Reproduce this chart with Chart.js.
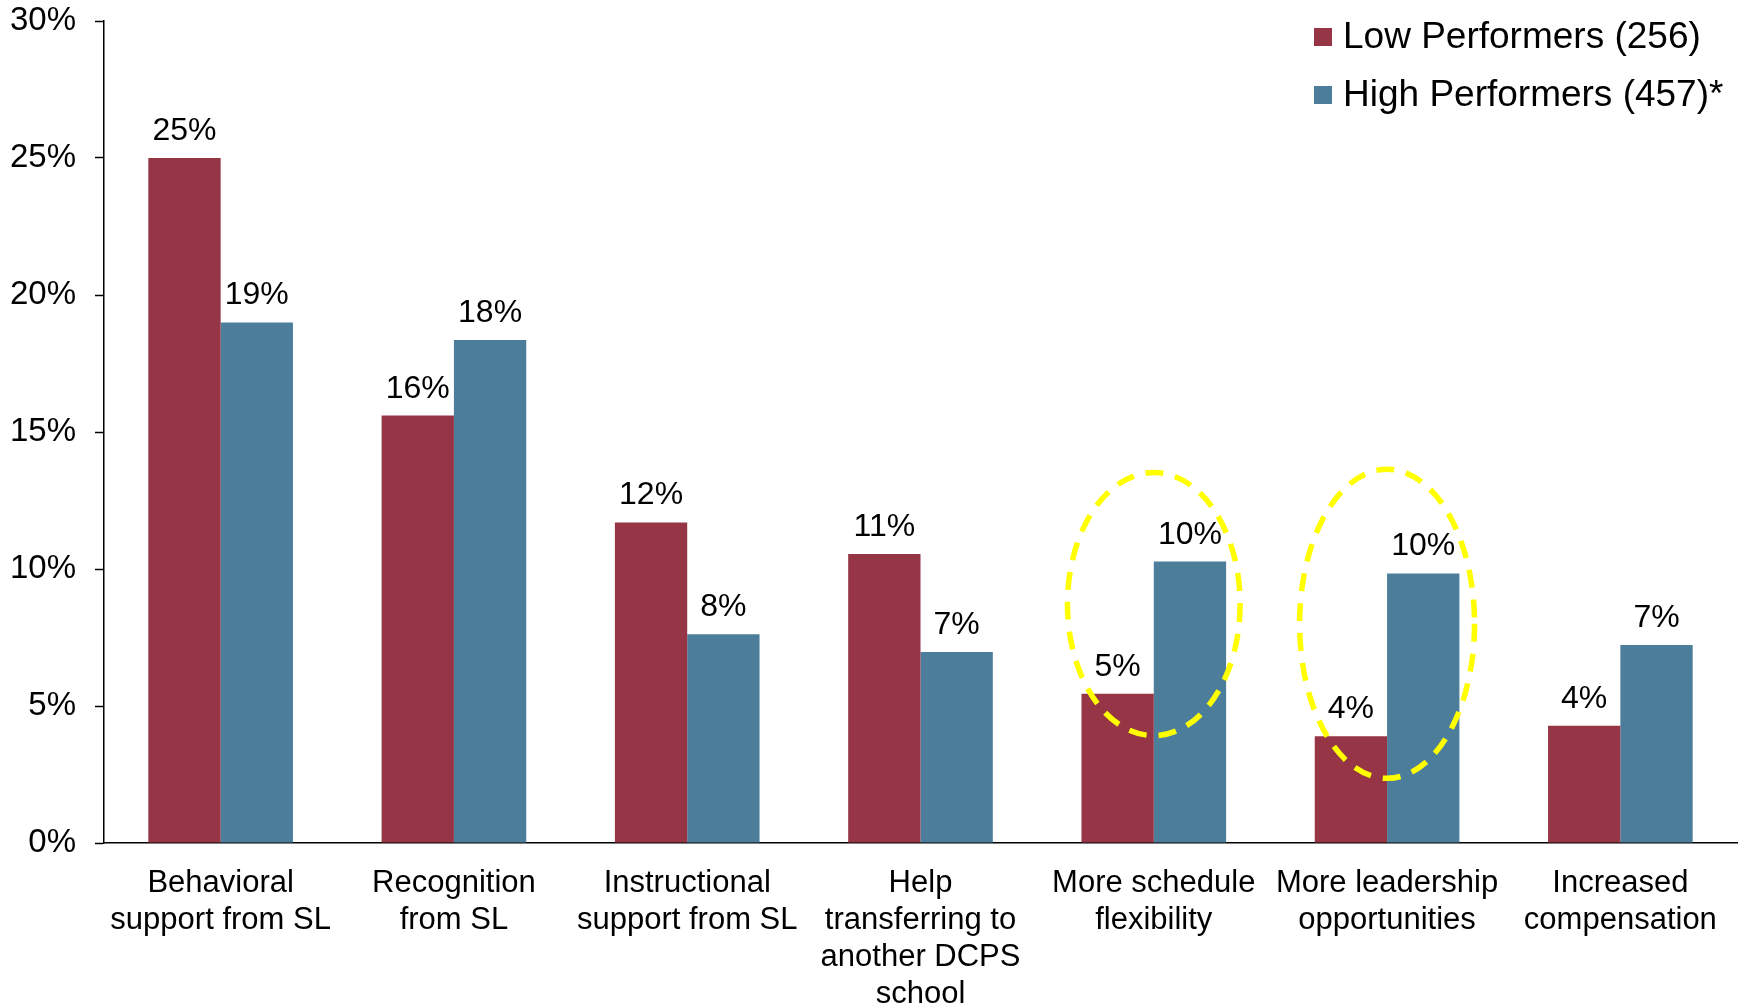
<!DOCTYPE html>
<html>
<head>
<meta charset="utf-8">
<title>Supports wanted by performance group</title>
<script src="https://cdn.jsdelivr.net/npm/chart.js@4.4.1/dist/chart.umd.min.js"></script>
<style>
  html, body { margin: 0; padding: 0; background: #fff; }
  #wrap { width: 1742px; height: 1004px; }
</style>
</head>
<body>
<div id="wrap"><canvas id="myChart" width="1742" height="1004"></canvas></div>
<script>
// categories (multi-line labels)
const categories = [
    ['Behavioral', 'support from SL'],
    ['Recognition', 'from SL'],
    ['Instructional', 'support from SL'],
    ['Help', 'transferring to', 'another DCPS', 'school'],
    ['More schedule', 'flexibility'],
    ['More leadership', 'opportunities'],
    ['Increased', 'compensation']
];
const lowPerformers = [25.0, 15.6, 11.7, 10.55, 5.45, 3.9, 4.28];
const highPerformers = [19.0, 18.36, 7.62, 6.97, 10.27, 9.84, 7.23];
const seriesNames = ['Low Performers (256)', 'High Performers (457)*'];
const yTicks = [0, 5, 10, 15, 20, 25, 30];

const FONT = "'Liberation Sans', Arial, sans-serif";
const RED = '#953546';
const BLUE = '#4c7e9b';

// dashed circles around the categories worth calling out
const highlights = [
    { index: 4, center: 8.72, ry: 4.8, rx: 0.37 },
    { index: 5, center: 8.0, ry: 5.64, rx: 0.375 }
];

// value labels above each bar
const valueLabels = {
    id: 'valueLabels',
    afterDatasetsDraw(chart) {
        const ctx = chart.ctx;
        ctx.save();
        ctx.font = '32px ' + FONT;
        ctx.fillStyle = '#000';
        ctx.textAlign = 'center';
        ctx.textBaseline = 'alphabetic';
        chart.data.datasets.forEach((ds, i) => {
            chart.getDatasetMeta(i).data.forEach((bar, j) => {
                ctx.fillText(Math.round(ds.data[j]) + '%', bar.x, bar.y - 18);
            });
        });
        ctx.restore();
    }
};

// yellow dashed ellipses
const ellipses = {
    id: 'ellipses',
    afterDraw(chart) {
        const ctx = chart.ctx;
        const x = chart.scales.x, y = chart.scales.y;
        const step = (x.right - x.left) / categories.length;
        ctx.save();
        ctx.strokeStyle = '#ffff00';
        ctx.lineWidth = 5.5;
        ctx.setLineDash([18, 12]);
        highlights.forEach(h => {
            const cx = x.getPixelForValue(h.index);
            const cy = y.getPixelForValue(h.center);
            const ry = Math.abs(y.getPixelForValue(h.center + h.ry) - cy);
            ctx.beginPath();
            ctx.ellipse(cx, cy, h.rx * step, ry, 0, 0, Math.PI * 2);
            ctx.stroke();
        });
        ctx.restore();
    }
};

// legend in the top right corner
const cornerLegend = {
    id: 'cornerLegend',
    afterDraw(chart) {
        const ctx = chart.ctx;
        ctx.save();
        ctx.font = '37px ' + FONT;
        ctx.textBaseline = 'middle';
        ctx.textAlign = 'left';
        chart.data.datasets.forEach((ds, i) => {
            const cy = 37 + i * 58;
            ctx.fillStyle = ds.backgroundColor;
            ctx.fillRect(1314, cy - 9, 18, 18);
            ctx.fillStyle = '#000';
            ctx.fillText(ds.label, 1343, cy + 1);
        });
        ctx.restore();
    }
};

const ctx = document.getElementById('myChart').getContext('2d');

const myChart = new Chart(ctx, {
    type: 'bar',
    data: {
        labels: categories,
        datasets: [{
            label: seriesNames[0],
            data: lowPerformers,
            backgroundColor: RED
        }, {
            label: seriesNames[1],
            data: highPerformers,
            backgroundColor: BLUE
        }]
    },
    options: {
        responsive: false,
        animation: false,
        layout: { padding: { top: 21, right: 5, left: 0, bottom: 0 } },
        datasets: {
            bar: { barPercentage: 1, categoryPercentage: 0.62 }
        },
        scales: {
            x: {
                grid: { display: false },
                border: { display: true, color: '#000', width: 1.5 },
                ticks: {
                    color: '#000',
                    font: { family: FONT, size: 31, lineHeight: 1.19 },
                    padding: 14,
                    maxRotation: 0,
                    autoSkip: false
                },
                afterFit(scale) { scale.height = 1004 - 843; }
            },
            y: {
                min: 0,
                max: 30,
                afterBuildTicks(scale) { scale.ticks = yTicks.map(v => ({ value: v })); },
                grid: {
                    drawOnChartArea: false,
                    drawTicks: true,
                    tickLength: 9,
                    tickColor: '#000',
                    tickWidth: 1.5
                },
                border: { display: true, color: '#000', width: 1.5 },
                ticks: {
                    color: '#000',
                    font: { family: FONT, size: 33, lineHeight: 1.2 },
                    padding: 19,
                    callback: v => v + '%'
                },
                afterFit(scale) {
                    scale.width = 104;
                    // the top label may sit in the layout padding
                    scale.paddingTop = 0;
                    scale.paddingBottom = 0;
                }
            }
        },
        plugins: {
            legend: { display: false },
            tooltip: { enabled: false }
        }
    },
    plugins: [valueLabels, ellipses, cornerLegend]
});
</script>
</body>
</html>
